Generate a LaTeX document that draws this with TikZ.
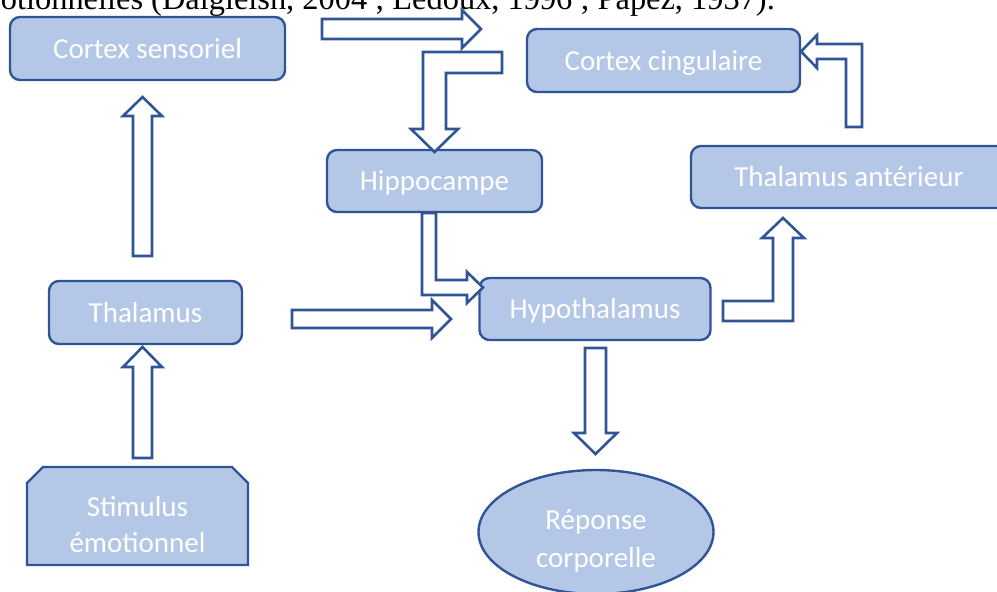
\documentclass[tikz,border=0pt]{standalone}
\usepackage{fontspec}
\setmainfont{Carlito}
\newfontfamily\refserif{Liberation Serif}
\usetikzlibrary{shapes.geometric}

\definecolor{boxfill}{HTML}{B4C7E7}
\definecolor{boxline}{HTML}{2F5597}

\tikzset{
  boxlook/.style={draw=boxline, fill=boxfill, line width=2.4pt},
  brainbox/.style={boxlook, rounded corners=10pt, text=white, inner sep=0pt,
    text height=23pt, text depth=4pt,
    font=\fontsize{29}{35}\selectfont},
  boxlabel/.style={text=white, align=center, inner sep=0pt},
  blockarrow/.style={draw=boxline, fill=white, line width=2.6pt,
    line join=miter},
}

\begin{document}
\begin{tikzpicture}[x=1pt, y=-1pt]
  \useasboundingbox (0,0) rectangle (997,592);
  \clip (0,0) rectangle (997,592);

  % running text above the figure
  \node[anchor=base east, inner sep=0pt, font=\refserif\fontsize{32.4}{38}\selectfont]
    (caption) at (775,9) {otionnelles (Dalgleish, 2004 ; Ledoux, 1996 ; Papez, 1937).};

  % structures
  \node[brainbox, minimum width=275pt, minimum height=63pt] (cs)  at (147.5,48.5) {Cortex sensoriel};
  \node[brainbox, minimum width=273pt, minimum height=63pt] (cc)  at (663.5,60.5) {Cortex cingulaire};
  \node[brainbox, minimum width=215pt, minimum height=62pt] (hip) at (434.5,181)  {Hippocampe};
  \node[brainbox, minimum width=316pt, minimum height=62pt] (ta)  at (849,177)    {Thalamus antérieur};
  \node[brainbox, minimum width=193pt, minimum height=63pt] (th)  at (145.5,312.5) {Thalamus};
  \node[brainbox, minimum width=231pt, minimum height=62pt] (hyp) at (595,309)    {Hypothalamus};

  % stimulus: rectangle with both top corners cut
  \draw[boxlook, line join=miter] (27,483) -- (43,467) -- (232,467) -- (248,483)
    -- (248,565) -- (27,565) -- cycle;
  \node[boxlabel, font=\fontsize{29}{36}\selectfont] (stim) at (137.5,525)
        {Stimulus\\émotionnel};

  % bodily response
  \node[boxlook, ellipse, minimum width=235pt, minimum height=124pt] (rep) at (596,532) {};
  \node[boxlabel, font=\fontsize{29}{38}\selectfont] (reptext) at (596,541)
        {Réponse\\corporelle};

  % block arrows
  \draw[blockarrow] (322,19) -- (462,19) -- (462,10) -- (481,29) -- (462,48) -- (462,39) -- (322,39) -- cycle;
  \draw[blockarrow] (502,52) -- (423,52) -- (423,129) -- (411,129) -- (434.5,152) -- (458,129) -- (446,129) -- (446,73) -- (502,73) -- cycle;
  \draw[blockarrow] (422,213) -- (422,295) -- (467,295) -- (467,303) -- (483,287.5) -- (467,272) -- (467,280) -- (436,280) -- (436,213) -- cycle;
  \draw[blockarrow] (292,310) -- (432,310) -- (432,300) -- (451,319) -- (432,338) -- (432,328) -- (292,328) -- cycle;
  \draw[blockarrow] (133,256) -- (133,116) -- (123,116) -- (142.5,97) -- (162,116) -- (152,116) -- (152,256) -- cycle;
  \draw[blockarrow] (133,458) -- (133,367) -- (123,367) -- (142.5,347) -- (162,367) -- (152,367) -- (152,458) -- cycle;
  \draw[blockarrow] (585,348) -- (585,433) -- (574,433) -- (595.5,454) -- (617,433) -- (606,433) -- (606,348) -- cycle;
  \draw[blockarrow] (723,301) -- (773,301) -- (773,238) -- (762,238) -- (783,218) -- (804,238) -- (793,238) -- (793,321) -- (723,321) -- cycle;
  \draw[blockarrow] (862,127) -- (862,44) -- (817,44) -- (817,35) -- (801,51.5) -- (817,68) -- (817,59) -- (846,59) -- (846,127) -- cycle;
\end{tikzpicture}
\end{document}
